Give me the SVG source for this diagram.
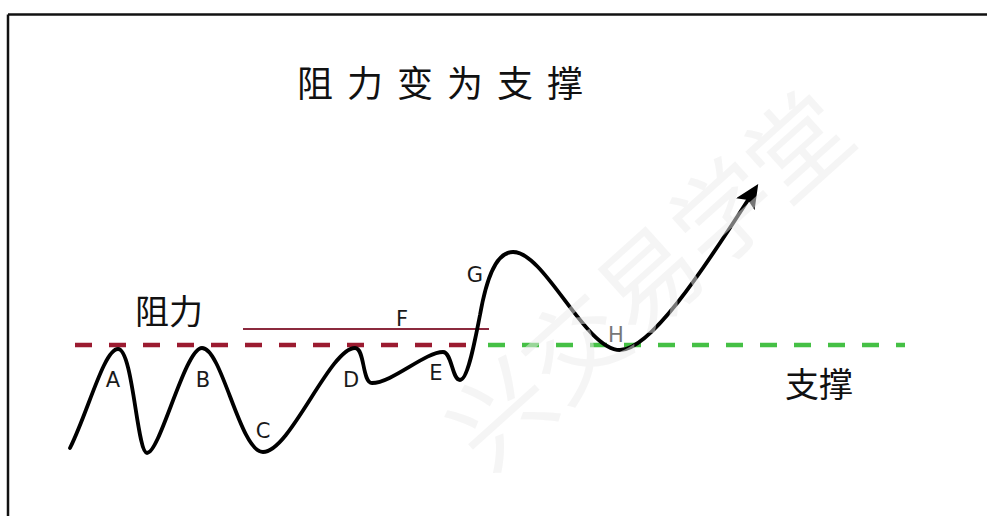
<svg xmlns="http://www.w3.org/2000/svg" width="987" height="516" viewBox="0 0 987 516">
<defs>
<style>
.cjk{font-family:"Noto Sans CJK SC","Noto Sans",sans-serif;fill:#111}
.lbl{font-family:"DejaVu Sans","Liberation Sans",sans-serif;font-size:21px;fill:#1a1a1a;text-anchor:middle}
.curve{fill:none;stroke:#000;stroke-width:3.8;stroke-linecap:round;stroke-linejoin:round}
</style>
<marker id="arr" markerUnits="userSpaceOnUse" markerWidth="24" markerHeight="22" viewBox="0 0 24 22" refX="5" refY="11" orient="auto">
<path d="M0,0 L24,11 L0,22 L5,11 z" fill="#000"/>
</marker>
</defs>
<rect width="987" height="516" fill="#fff"/>
<g id="frame" stroke="#111" stroke-width="2.5" fill="none">
<line x1="8" y1="14.5" x2="987" y2="14.5"/>
<line x1="8" y1="14.5" x2="8" y2="516"/>
</g>
<g id="title"><text class="cjk" x="297" y="97" font-size="36" letter-spacing="14">阻力变为支撑</text></g>
<g id="connectors">
<line id="resistance" x1="75" y1="345" x2="478" y2="345" stroke="#9b1b30" stroke-width="4.5" stroke-dasharray="17 17"/>
<line id="support" x1="488" y1="345" x2="905" y2="345" stroke="#45c045" stroke-width="4.5" stroke-dasharray="17 17"/>
<line id="fline" x1="243" y1="329" x2="489" y2="329" stroke="#8b2a3e" stroke-width="2"/>
<path class="curve" marker-end="url(#arr)" d="M70,448 C88,412 104,349 118,349 C133,349 137,453 147,453 C160,453 185,348 202,348 C222,348 240,452 263,452 C290,452 330,348 355,348 C365,348 362,383 372,383 C392,383 425,352 443,352 C452,352 452,380 460,380 C468,380 475,340 480,315 C487,275 497,252 513,252 C545,252 585,350 620,350 C650,350 702,272 748,200"/>
</g>
<g id="label-resist"><text class="cjk" x="135" y="324" font-size="34">阻力</text></g>
<g id="label-support"><text class="cjk" x="785" y="397" font-size="34">支撑</text></g>
<g id="labels">
<text class="lbl" x="113" y="387">A</text>
<text class="lbl" x="203" y="387">B</text>
<text class="lbl" x="263" y="438">C</text>
<text class="lbl" x="351" y="387">D</text>
<text class="lbl" x="436" y="380">E</text>
<text class="lbl" x="402" y="326">F</text>
<text class="lbl" x="475" y="282">G</text>
<text class="lbl" x="616" y="342" style="fill:#777">H</text>
</g>
<g id="watermark"><text transform="translate(645,275) rotate(-42)" text-anchor="middle" dominant-baseline="central" font-family="Noto Sans CJK SC,sans-serif" font-size="100" fill="#ececec" opacity="0.5">兴交易学堂</text></g>
</svg>
